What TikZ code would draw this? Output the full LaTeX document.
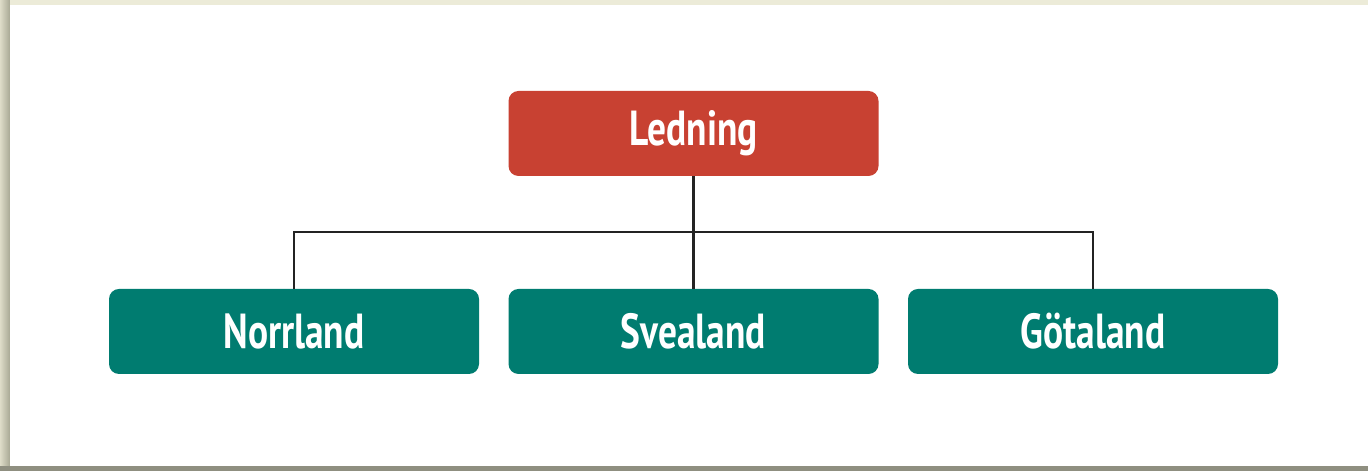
\documentclass[tikz,border=0pt]{standalone}
\usepackage{fontspec}
\setmainfont{PT Sans}[FakeStretch=0.76]
\usepackage{xcolor}
\usepackage{tikz}
\usetikzlibrary{positioning, calc}
\definecolor{headred}{RGB}{200, 65, 50}
\definecolor{regionteal}{RGB}{0, 124, 112}
\definecolor{linkgray}{RGB}{35, 35, 35}
\definecolor{frameleft}{RGB}{168, 168, 148}
\definecolor{framelight}{RGB}{222, 220, 200}
\definecolor{frametop}{RGB}{236, 235, 216}
\definecolor{framebottom}{RGB}{143, 143, 128}

\begin{document}
\begin{tikzpicture}[
    unit/.style={rectangle, rounded corners=0.2cm, minimum width=7.4cm, minimum height=1.7cm, text centered, text=white, font=\fontsize{28}{32}\selectfont\bfseries},
    link/.style={draw=linkgray, line width=1.2pt}
]
    % Frame
    \useasboundingbox (0,0) rectangle (27.36,9.42);
    \fill[framebottom] (0,0) rectangle (27.36,9.42);
    \fill[frametop] (0,9.32) rectangle (27.36,9.42);
    \shade[left color=framelight, right color=frameleft] (0,0.1) rectangle (0.2,9.42);
    \fill[white] (0.2,0.1) rectangle (27.36,9.32);

    % Top
    \node[unit, fill=headred] (ledning) at (13.87,6.75) {Ledning};

    % Regions
    \node[unit, fill=regionteal] (norrland) at (5.88,2.79) {Norrland};
    \node[unit, fill=regionteal] (svealand) at (13.87,2.79) {Svealand};
    \node[unit, fill=regionteal] (gotaland) at (21.86,2.79) {Götaland};

    % Lines
    \coordinate (fork) at (13.87,4.78);
    \draw[link] (ledning) -- (fork);
    \draw[link] (fork) -| (norrland);
    \draw[link] (fork) -| (gotaland);
    \draw[link] (fork) -- (svealand);

\end{tikzpicture}
\end{document}
